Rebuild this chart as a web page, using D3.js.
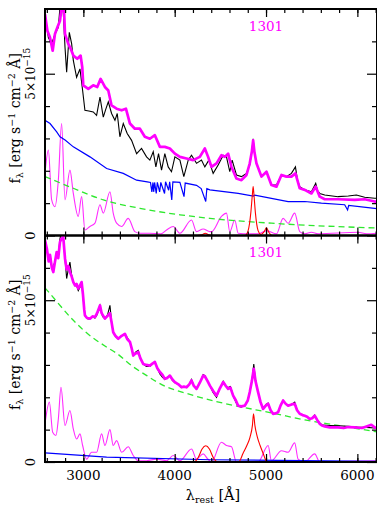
<!DOCTYPE html>
<html>
<head>
<meta charset="utf-8">
<script src="https://cdn.jsdelivr.net/npm/d3@7"></script>
<style>
body { margin: 0; background: #fff; }
text { font-family: "DejaVu Serif", serif; }
</style>
</head>
<body>
<div id="chart"></div>
<script>
// wavelength tick values
var majorX = [3000, 4000, 5000, 6000];
var minorX = d3.range(2600, 6201, 200);
var majorY = [0, 5];
var minorY = [1, 2, 3, 4, 6];

// object name shown in each panel
var objectName = "1301";

// upper panel: spectrum, model fit, host galaxy, power law, FeII, narrow lines  (flux in 1e-15)
var topObserved = [[2580,6.84],[2617,6.12],[2653,5.92],[2689,6.23],[2726,6.43],[2751,7.3],[2773,7.3],[2799,5.82],[2817,5.05],[2846,6.28],[2872,5.92],[2890,5.41],[2926,4.89],[2963,5.15],[2992,4.48],[3017,3.87],[3060,3.85],[3108,3.82],[3145,3.71],[3182,4.28],[3218,3.66],[3245,3.9],[3273,4.13],[3309,3.77],[3346,3.56],[3371,3.77],[3400,3.05],[3437,3.46],[3480,3.15],[3528,2.94],[3583,2.53],[3637,2.69],[3692,2.43],[3728,2.33],[3765,2.59],[3794,2.12],[3823,2.53],[3856,2.02],[3892,2.53],[3929,2.12],[3965,1.97],[4002,2.43],[4057,2.33],[4100,1.82],[4148,2.33],[4184,2.48],[4239,2.23],[4293,2.33],[4330,2.12],[4374,2.33],[4421,1.92],[4476,2.18],[4531,2.48],[4567,2.43],[4603,1.97],[4629,2.33],[4676,1.87],[4731,1.82],[4786,1.92],[4822,2.18],[4845,2.6],[4859,2.99],[4872,2.6],[4895,2.23],[4950,1.82],[5005,1.97],[5059,1.56],[5114,1.56],[5169,1.87],[5223,1.82],[5278,1.92],[5322,2.12],[5345,1.7],[5369,1.51],[5424,1.41],[5497,1.35],[5544,1.61],[5565,1.38],[5588,1.30],[5643,1.25],[5788,1.20],[5900,1.22],[5989,1.25],[6080,1.18],[6189,1.15],[6215,1.15]];
var topModel = [[2580,6.84],[2606,6.33],[2635,6.12],[2664,5.71],[2689,6.23],[2715,6.43],[2744,6.64],[2760,7.0],[2769,6.94],[2785,7.2],[2799,6.23],[2835,5.92],[2865,5.75],[2890,5.56],[2933,5.46],[2970,5.56],[2988,5.2],[2999,4.64],[3054,4.53],[3108,4.64],[3152,4.59],[3189,4.84],[3236,4.59],[3273,4.48],[3309,4.02],[3364,3.92],[3419,3.87],[3466,3.92],[3510,3.46],[3564,3.30],[3619,3.30],[3673,3.05],[3728,2.99],[3783,3.10],[3838,2.74],[3892,2.74],[3947,2.69],[4002,2.53],[4057,2.43],[4130,2.38],[4202,2.33],[4275,2.43],[4330,2.69],[4366,2.43],[4403,2.12],[4458,2.23],[4512,2.48],[4549,2.43],[4585,2.53],[4622,2.12],[4676,1.76],[4731,1.71],[4786,1.87],[4822,2.23],[4845,2.6],[4859,2.94],[4872,2.6],[4895,2.23],[4950,1.82],[5005,1.97],[5059,1.56],[5114,1.51],[5169,1.87],[5223,1.82],[5278,1.82],[5322,1.92],[5369,1.46],[5424,1.41],[5497,1.30],[5544,1.51],[5588,1.20],[5643,1.12],[5788,1.12],[5971,1.10],[6080,1.12],[6189,1.05],[6215,1.05]];
var topHost = [[2580,3.56],[2635,3.46],[2708,3.20],[2744,3.05],[2800,2.95],[2890,2.74],[3072,2.43],[3255,2.07],[3437,1.92],[3583,1.71],[3700,1.66],[3735,1.64],[3750,1.35],[3762,1.64],[3770,1.35],[3780,1.64],[3798,1.30],[3810,1.64],[3835,1.35],[3848,1.64],[3889,1.30],[3900,1.66],[3934,1.40],[3945,1.66],[3968,1.10],[3980,1.66],[4057,1.64],[4102,1.20],[4115,1.62],[4239,1.55],[4290,1.45],[4340,1.05],[4352,1.45],[4385,1.41],[4695,1.30],[4861,1.22],[4877,1.25],[5059,1.15],[5242,1.05],[5424,1.05],[5606,1.00],[5861,0.95],[5893,0.79],[5905,0.93],[6189,0.84],[6215,0.83]];
var topPowerLaw = [[2580,1.82],[2890,1.46],[3220,1.10],[3619,0.84],[4057,0.64],[4385,0.53],[5059,0.38],[6215,0.23]];
var topFeII = [[2580,1.92],[2617,2.64],[2653,1.10],[2689,0.89],[2726,1.71],[2762,3.46],[2799,1.10],[2853,2.02],[2890,1.30],[2944,0.59],[2981,1.20],[3017,0.17],[3072,0.28],[3127,0.38],[3182,0.95],[3218,0.69],[3291,1.35],[3327,0.69],[3364,0.38],[3419,0.28],[3491,0.53],[3564,0.12],[3619,0.07],[3728,0.07],[3850,0.05],[3911,0.17],[3984,0.28],[4057,0.07],[4184,0.48],[4239,0.12],[4312,0.2],[4385,0.12],[4403,0.12],[4512,0.59],[4567,0.69],[4603,0.12],[4658,0.48],[4695,0.07],[4804,0.05],[4913,0.05],[5005,0.15],[5114,0.05],[5187,0.53],[5242,0.38],[5314,0.69],[5369,0.12],[5424,0.05],[5497,0.1],[5570,0.05],[6007,0.1],[6100,0.05],[6215,0.07]];
var topLines = [[4250,0],[4300,0.02],[4335,0.07],[4370,0.02],[4420,0],[4770,0],[4804,0.15],[4833,0.69],[4850,1.25],[4859,1.51],[4868,1.25],[4884,0.69],[4913,0.15],[4945,0.03],[4980,0.12],[5005,0.24],[5030,0.1],[5060,0]];

// lower panel: same object, fit without host galaxy
var bottomObserved = [[2580,6.9],[2610,6.4],[2635,6.39],[2660,5.95],[2690,6.2],[2708,6.49],[2730,6.5],[2744,6.9],[2765,7.2],[2780,6.95],[2799,6.29],[2817,5.67],[2835,5.95],[2853,6.18],[2870,5.8],[2890,5.56],[2926,5.45],[2944,5.30],[2963,5.4],[2981,5.56],[3000,5.0],[3017,4.53],[3050,4.42],[3072,4.43],[3100,4.48],[3127,4.45],[3150,4.55],[3182,4.84],[3210,4.5],[3236,4.43],[3265,4.55],[3291,4.84],[3310,4.3],[3327,4.01],[3360,3.85],[3382,3.81],[3420,3.9],[3455,3.96],[3480,3.85],[3510,3.71],[3530,3.5],[3546,3.29],[3575,3.4],[3601,3.45],[3625,3.2],[3655,3.03],[3690,2.95],[3728,2.95],[3760,3.05],[3783,3.09],[3810,2.9],[3838,2.72],[3865,2.62],[3892,2.55],[3920,2.62],[3947,2.67],[3975,2.52],[4002,2.45],[4040,2.4],[4075,2.3],[4100,2.33],[4130,2.3],[4160,2.4],[4184,2.55],[4210,2.35],[4239,2.25],[4275,2.45],[4312,2.7],[4330,2.67],[4360,2.5],[4385,2.36],[4420,2.15],[4458,2.0],[4490,2.25],[4531,2.5],[4560,2.35],[4585,2.3],[4610,2.33],[4640,2.05],[4670,1.85],[4695,1.72],[4730,1.7],[4768,1.74],[4800,1.9],[4822,2.16],[4845,2.5],[4866,3.03],[4885,2.5],[4913,2.16],[4940,1.85],[4968,1.64],[5000,1.78],[5023,1.82],[5050,1.6],[5077,1.49],[5105,1.5],[5132,1.54],[5160,1.75],[5187,1.90],[5215,1.8],[5242,1.74],[5280,1.78],[5314,1.85],[5340,1.6],[5369,1.49],[5400,1.45],[5424,1.43],[5450,1.4],[5478,1.33],[5505,1.35],[5533,1.45],[5560,1.3],[5588,1.2],[5620,1.14],[5700,1.13],[5800,1.12],[5900,1.1],[6000,1.08],[6100,1.07],[6189,1.05],[6215,1.04]];
var bottomModel = [[2580,6.85],[2600,6.6],[2620,6.2],[2635,6.4],[2655,6.0],[2671,5.87],[2690,6.2],[2708,6.49],[2725,6.3],[2744,6.8],[2760,6.9],[2780,6.95],[2799,6.29],[2817,5.95],[2835,6.05],[2853,5.87],[2870,5.75],[2890,5.56],[2910,5.45],[2926,5.5],[2944,5.36],[2963,5.45],[2981,5.56],[2995,5.2],[3010,4.7],[3017,4.53],[3040,4.45],[3072,4.43],[3100,4.5],[3127,4.48],[3150,4.6],[3182,4.84],[3200,4.6],[3236,4.43],[3260,4.5],[3291,4.6],[3310,4.3],[3327,4.01],[3350,3.9],[3382,3.81],[3420,3.9],[3455,3.96],[3480,3.8],[3510,3.71],[3530,3.5],[3546,3.29],[3570,3.35],[3601,3.40],[3625,3.2],[3655,3.03],[3690,3.0],[3728,2.98],[3760,3.05],[3783,3.09],[3810,2.9],[3838,2.78],[3865,2.7],[3892,2.57],[3920,2.6],[3947,2.67],[3975,2.55],[4002,2.47],[4040,2.4],[4075,2.31],[4100,2.33],[4130,2.31],[4160,2.4],[4184,2.52],[4210,2.35],[4239,2.26],[4275,2.45],[4312,2.67],[4330,2.65],[4360,2.5],[4385,2.36],[4420,2.2],[4458,2.05],[4490,2.25],[4531,2.47],[4560,2.35],[4585,2.26],[4610,2.3],[4640,2.05],[4670,1.9],[4695,1.74],[4730,1.72],[4768,1.74],[4800,1.9],[4822,2.16],[4845,2.5],[4866,2.88],[4885,2.5],[4913,2.16],[4940,1.85],[4968,1.64],[5000,1.75],[5023,1.80],[5050,1.6],[5077,1.49],[5105,1.5],[5132,1.54],[5160,1.75],[5187,1.90],[5215,1.8],[5242,1.74],[5280,1.78],[5314,1.80],[5340,1.6],[5369,1.49],[5400,1.45],[5424,1.43],[5450,1.4],[5478,1.33],[5505,1.35],[5533,1.43],[5560,1.3],[5588,1.18],[5620,1.12],[5643,1.10],[5700,1.07],[5788,1.07],[5850,1.05],[5900,1.08],[5971,1.07],[6050,1.05],[6100,1.1],[6153,1.15],[6189,1.07],[6215,1.05]];
var bottomHost = [[2580,0.28],[3255,0.15],[4385,0.07],[6215,0.02]];
var bottomPowerLaw = [[2580,5.38],[2599,5.32],[2890,4.38],[2999,4.08],[3255,3.55],[3364,3.36],[3546,2.94],[3655,2.74],[3911,2.32],[4130,2.12],[4421,1.89],[4695,1.72],[5059,1.52],[5424,1.30],[5788,1.13],[6215,0.93]];
var bottomFeII = [[2580,1.18],[2628,1.85],[2664,0.92],[2700,0.82],[2726,1.33],[2755,2.31],[2799,1.13],[2853,1.59],[2890,1.02],[2926,0.71],[2963,0.87],[2992,0.51],[3036,0.09],[3090,0.30],[3145,0.30],[3200,0.87],[3236,0.51],[3291,1.00],[3327,0.51],[3364,0.66],[3419,0.30],[3491,0.47],[3546,0.20],[3601,0.04],[3692,0.04],[3801,0.09],[3911,0.04],[3984,0.20],[4057,0.04],[4184,0.40],[4239,0.09],[4312,0.25],[4360,0.1],[4403,0.0],[4512,0.61],[4567,0.51],[4622,0.47],[4676,0.0],[4768,0.0],[4913,0.0],[5023,0.51],[5059,0.04],[5169,0.35],[5242,0.30],[5314,0.59],[5351,0.09],[5424,0.0],[5533,0.25],[5588,0.0],[6189,0.04],[6215,0.02]];
var bottomLines = [[4200,0],[4230,0.03],[4260,0.15],[4300,0.4],[4340,0.5],[4380,0.4],[4420,0.15],[4450,0.03],[4480,0],[4700,0],[4749,0.27],[4790,0.51],[4825,0.77],[4851,1.13],[4863,1.49],[4878,1.13],[4905,0.77],[4935,0.51],[4968,0.27],[5005,0.02],[5020,0]];

// page size and plot box
var width = 377, height = 508;
var plotLeft = 45, plotRight = 377;

var panels = [
    {top: 9, bottom: 235.5, observed: topObserved, model: topModel, host: topHost,
     power: topPowerLaw, feii: topFeII, lines: topLines, labelY: 31},
    {top: 235.5, bottom: 462, observed: bottomObserved, model: bottomModel, host: bottomHost,
     power: bottomPowerLaw, feii: bottomFeII, lines: bottomLines, labelY: 257}
];

// wavelength scale shared by both panels
var x = d3.scaleLinear()
    .domain([2580, 6215])
    .range([plotLeft, plotRight]);

var svg = d3.select("#chart").append("svg")
    .attr("width", width)
    .attr("height", height);

panels.forEach(function(p, i) {
    var y = d3.scaleLinear()
        .domain([0, 7])
        .range([p.bottom, p.top]);

    var line = d3.line()
        .x(function(d) { return x(d[0]); })
        .y(function(d) { return y(d[1]); });
    var smooth = d3.line()
        .x(function(d) { return x(d[0]); })
        .y(function(d) { return y(d[1]); })
        .curve(d3.curveMonotoneX);

    svg.append("clipPath")
        .attr("id", "clip" + i)
        .append("rect")
        .attr("x", plotLeft)
        .attr("y", p.top)
        .attr("width", plotRight - plotLeft)
        .attr("height", p.bottom - p.top);

    var g = svg.append("g").attr("clip-path", "url(#clip" + i + ")");

    // components first, then the spectrum and the total fit on top
    g.append("path").datum(p.feii)
        .attr("d", smooth).attr("fill", "none")
        .attr("stroke", "#ff2cff").attr("stroke-width", 1.1);
    g.append("path").datum(p.power)
        .attr("d", smooth).attr("fill", "none")
        .attr("stroke", "#2ee82e").attr("stroke-width", 1.3)
        .attr("stroke-dasharray", "6,4");
    g.append("path").datum(p.host)
        .attr("d", line).attr("fill", "none")
        .attr("stroke", "#0000ff").attr("stroke-width", 1.2);
    g.append("path").datum(p.lines)
        .attr("d", smooth).attr("fill", "none")
        .attr("stroke", "#ff0000").attr("stroke-width", 1.1);
    g.append("path").datum(p.observed)
        .attr("d", line).attr("fill", "none")
        .attr("stroke", "#000").attr("stroke-width", 1.1);
    g.append("path").datum(p.model)
        .attr("d", line).attr("fill", "none")
        .attr("stroke", "#ff00ff").attr("stroke-width", 2.7)
        .attr("stroke-linejoin", "round");

    // ticks on all four sides, pointing inward
    var axes = svg.append("g").attr("class", "axes");
    axes.append("g").attr("transform", "translate(0," + p.bottom + ")")
        .call(d3.axisTop(x).tickValues(minorX).tickSize(4).tickFormat(""));
    axes.append("g").attr("transform", "translate(0," + p.bottom + ")")
        .call(d3.axisTop(x).tickValues(majorX).tickSize(8).tickFormat(""));
    axes.append("g").attr("transform", "translate(0," + p.top + ")")
        .call(d3.axisBottom(x).tickValues(minorX).tickSize(4).tickFormat(""));
    axes.append("g").attr("transform", "translate(0," + p.top + ")")
        .call(d3.axisBottom(x).tickValues(majorX).tickSize(8).tickFormat(""));
    axes.append("g").attr("transform", "translate(" + plotLeft + ",0)")
        .call(d3.axisRight(y).tickValues(minorY).tickSize(5).tickFormat(""));
    axes.append("g").attr("transform", "translate(" + plotLeft + ",0)")
        .call(d3.axisRight(y).tickValues(majorY).tickSize(10).tickFormat(""));
    axes.append("g").attr("transform", "translate(" + plotRight + ",0)")
        .call(d3.axisLeft(y).tickValues(minorY).tickSize(5).tickFormat(""));
    axes.append("g").attr("transform", "translate(" + plotRight + ",0)")
        .call(d3.axisLeft(y).tickValues(majorY).tickSize(10).tickFormat(""));
    axes.selectAll(".domain").remove();
    axes.selectAll(".tick line").attr("stroke", "#000").attr("stroke-width", 1.2);

    // frame
    svg.append("rect")
        .attr("x", plotLeft)
        .attr("y", p.top)
        .attr("width", plotRight - plotLeft)
        .attr("height", p.bottom - p.top)
        .attr("fill", "none")
        .attr("stroke", "#000")
        .attr("stroke-width", 2);

    // y tick labels, rotated like the axis title
    svg.append("text")
        .attr("transform", "translate(35," + y(0) + ") rotate(-90)")
        .attr("text-anchor", "middle")
        .attr("font-size", 13)
        .text("0");
    var five = svg.append("text")
        .attr("transform", "translate(35," + y(5) + ") rotate(-90)")
        .attr("text-anchor", "middle")
        .attr("font-size", 12);
    five.append("tspan").text("5\u00d710");
    five.append("tspan").attr("dy", -5).attr("font-size", 9).text("\u221215");

    // y axis title
    var mid = (p.top + p.bottom) / 2 - 4;
    var title = svg.append("text")
        .attr("transform", "translate(20," + mid + ") rotate(-90)")
        .attr("text-anchor", "middle")
        .attr("font-size", 14);
    title.append("tspan").text("f");
    title.append("tspan").attr("dy", 3).attr("font-size", 9.5).text("\u03bb");
    title.append("tspan").attr("dy", -3).text(" [erg s");
    title.append("tspan").attr("dy", -5).attr("font-size", 9.5).text("\u22121");
    title.append("tspan").attr("dy", 5).text(" cm");
    title.append("tspan").attr("dy", -5).attr("font-size", 9.5).text("\u22122");
    title.append("tspan").attr("dy", 5).text(" \u00c5]");

    // object name
    svg.append("text")
        .attr("x", x(5000))
        .attr("y", p.labelY)
        .attr("text-anchor", "middle")
        .attr("font-size", 13.5)
        .attr("fill", "#ff00ff")
        .text(objectName);
});

// wavelength labels under the lower panel
svg.selectAll(".xlabel")
    .data(majorX)
    .enter().append("text")
    .attr("class", "xlabel")
    .attr("x", function(d) { return x(d); })
    .attr("y", 480)
    .attr("text-anchor", "middle")
    .attr("font-size", 13.5)
    .text(function(d) { return d; });

var xTitle = svg.append("text")
    .attr("x", 213)
    .attr("y", 500)
    .attr("text-anchor", "middle")
    .attr("font-size", 14.5);
xTitle.append("tspan").text("\u03bb");
xTitle.append("tspan").attr("dy", 3).attr("font-size", 9.5).text("rest");
xTitle.append("tspan").attr("dy", -3).text(" [\u00c5]");
</script>
</body>
</html>
